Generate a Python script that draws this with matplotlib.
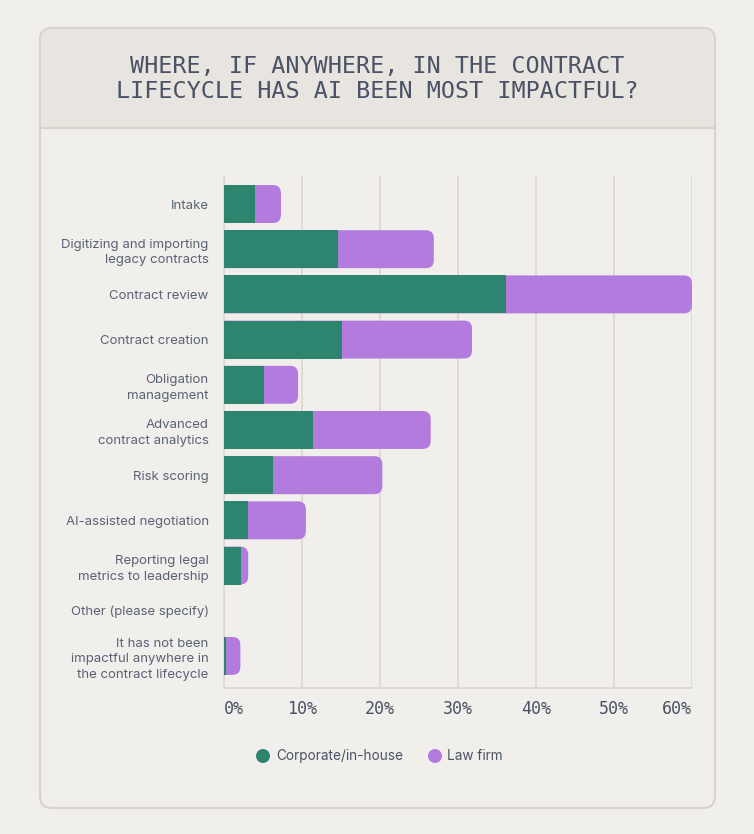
import matplotlib
matplotlib.use("Agg")
import matplotlib.pyplot as plt
from matplotlib.patches import FancyBboxPatch, Rectangle, Circle
from matplotlib.transforms import IdentityTransform

categories = [
    "Intake",
    "Digitizing and importing\nlegacy contracts",
    "Contract review",
    "Contract creation",
    "Obligation\nmanagement",
    "Advanced\ncontract analytics",
    "Risk scoring",
    "AI-assisted negotiation",
    "Reporting legal\nmetrics to leadership",
    "Other (please specify)",
    "It has not been\nimpactful anywhere in\nthe contract lifecycle",
]
corporate = [4.0, 14.6, 36.2, 15.1, 5.1, 11.4, 6.3, 3.1, 2.2, 0.0, 0.3]
law_firm = [3.3, 12.3, 23.8, 16.7, 4.4, 15.1, 14.0, 7.4, 0.9, 0.0, 1.8]
xticks = [0, 10, 20, 30, 40, 50, 60]
xtick_labels = ["0%", "10%", "20%", "30%", "40%", "50%", "60%"]
series_names = ["Corporate/in-house", "Law firm"]
title_lines = ["WHERE, IF ANYWHERE, IN THE CONTRACT",
               "LIFECYCLE HAS AI BEEN MOST IMPACTFUL?"]

GREEN = "#2D8570"
PURPLE = "#B27BDD"
BG = "#F1EFEB"
HEADER = "#E8E4DF"
BORDER = "#D9D4CB"
TEXT = "#4A5265"
LABEL = "#5A6275"
GRID = "#DCD7CF"

W, H = 754, 834
fig = plt.figure(figsize=(W / 100, H / 100), dpi=100)
fig.patch.set_facecolor(BG)

ident = IdentityTransform()

# card
card = FancyBboxPatch((40, H - 808), 675, 780,
                      boxstyle="round,pad=0,rounding_size=12",
                      transform=ident, facecolor=BG, edgecolor=BORDER,
                      linewidth=1.6, zorder=-3)
fig.patches.append(card)
header = FancyBboxPatch((41, H - 128), 673, 99,
                        boxstyle="round,pad=0,rounding_size=11",
                        transform=ident, facecolor=HEADER, edgecolor="none",
                        zorder=-2)
fig.patches.append(header)
fig.patches.append(Rectangle((41, H - 128), 673, 20, transform=ident,
                             facecolor=HEADER, edgecolor="none", zorder=-2))
fig.lines.append(plt.Line2D([40, 715], [H - 128, H - 128], transform=ident,
                            color=BORDER, linewidth=1.6, zorder=-1))

for yy, line in zip([66, 92], title_lines):
    fig.text(377 / W, 1 - yy / H, line, ha="center", va="center",
             fontsize=16.8, family="DejaVu Sans Mono", color=TEXT, zorder=3)

ax = fig.add_axes([224 / W, 1 - 688 / H, (692 - 224) / W, (688 - 176) / H])
ax.set_zorder(5)
ax.set_facecolor("none")
n = len(categories)
y = list(range(n))
ax.set_xlim(0, 60)
ax.set_ylim(n - 1 + 0.71, -0.62)

bar_h = 0.84
green_bars = ax.barh(y, corporate, height=bar_h, color=GREEN, zorder=4)
purple_bars = ax.barh(y, law_firm, left=corporate, height=bar_h,
                      color=PURPLE, zorder=3)

# round the right end of each stacked bar
r = 8
for gb, pb in zip(green_bars, purple_bars):
    total = pb.get_x() + pb.get_width()
    if total <= 0:
        continue
    (x0, y0), (x1, y1) = ax.transData.transform(
        [(0, pb.get_y()), (total, pb.get_y() + pb.get_height())])
    ylo, yhi = min(y0, y1), max(y0, y1)
    pb.set_visible(False)
    rp = FancyBboxPatch((x0 - 20, ylo), (x1 - x0) + 20, yhi - ylo,
                        boxstyle=f"round,pad=0,rounding_size={r}",
                        transform=ident, facecolor=PURPLE, edgecolor="none",
                        zorder=3)
    ax.add_artist(rp)
    rp.set_clip_path(ax.patch)
    if gb.get_width() >= total - 0.01:
        gb.set_visible(False)
        rg = FancyBboxPatch((x0 - 20, ylo), (x1 - x0) + 20, yhi - ylo,
                            boxstyle=f"round,pad=0,rounding_size={r}",
                            transform=ident, facecolor=GREEN, edgecolor="none",
                            zorder=4)
        ax.add_artist(rg)
        rg.set_clip_path(ax.patch)

ax.set_xticks(xticks)
ax.set_xticklabels(xtick_labels, family="DejaVu Sans Mono", fontsize=12,
                   color=TEXT)
for i, t in enumerate(ax.get_xticklabels()):
    if i == 0:
        t.set_ha("left")
    elif i == len(xticks) - 1:
        t.set_ha("right")
ax.tick_params(axis="x", length=0, pad=9)
ax.set_yticks(y)
ax.set_yticklabels(categories, family="Inter", fontsize=9.5, color=LABEL,
                   linespacing=1.4)
ax.tick_params(axis="y", length=0, pad=11)
ax.grid(axis="x", color=GRID, linewidth=1.2, zorder=0)
ax.set_axisbelow(True)
for s in ["top", "right"]:
    ax.spines[s].set_visible(False)
for s in ["left", "bottom"]:
    ax.spines[s].set_color(GRID)
    ax.spines[s].set_linewidth(1.2)

# legend
ly = H - 756
fig.patches.append(Circle((263, ly), 7, transform=ident, facecolor=GREEN,
                          edgecolor="none", zorder=6))
fig.text(276 / W, ly / H, series_names[0], ha="left", va="center",
         family="Inter", fontsize=9.8, color=TEXT)
fig.patches.append(Circle((435, ly), 7, transform=ident, facecolor=PURPLE,
                          edgecolor="none", zorder=6))
fig.text(447 / W, ly / H, series_names[1], ha="left", va="center",
         family="Inter", fontsize=9.8, color=TEXT)

fig.savefig("out.png", dpi=100, facecolor=BG)
